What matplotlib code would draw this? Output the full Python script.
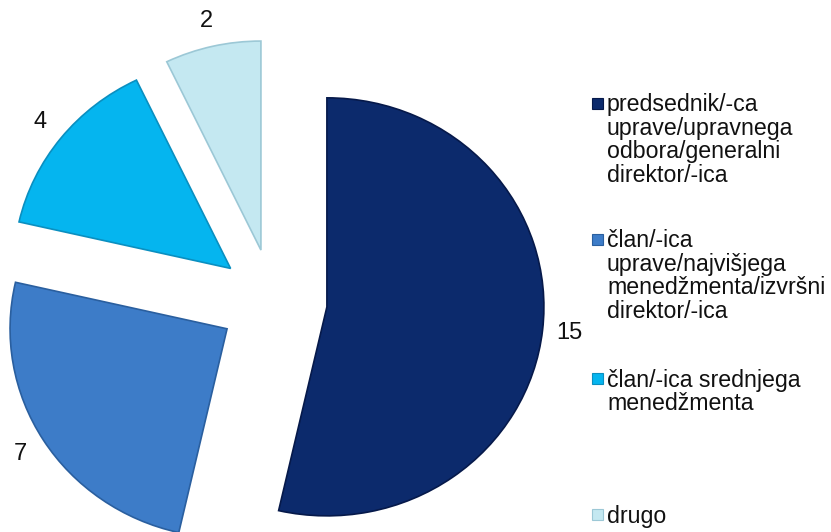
import matplotlib.pyplot as plt
from matplotlib.patches import Rectangle

# survey answers: position of the respondent in the company
labels = [
    'predsednik/-ca\nuprave/upravnega\nodbora/generalni\ndirektor/-ica',
    'član/-ica\nuprave/najvišjega\nmenedžmenta/izvršni\ndirektor/-ica',
    'član/-ica srednjega\nmenedžmenta',
    'drugo',
]
counts = [15, 7, 4, 2]
colors = ['#0c2a6c', '#3d7cc8', '#05b5ef', '#c4e8f1']
edges = ['#06194a', '#2a5f9f', '#0a8fc0', '#9cc8d6']

plt.rcParams['font.family'] = ['Liberation Sans', 'DejaVu Sans']

W, H = 831, 532
fig = plt.figure(figsize=(W / 100, H / 100), dpi=100)
ax = fig.add_axes([0, 0, 1, 1])

total = sum(counts)
wedges, texts = ax.pie(
    counts,
    startangle=90,
    counterclock=False,
    explode=[0.25] * len(counts),
    colors=colors,
    autopct=lambda p: f'{round(p * total / 100):d}',
    pctdistance=1.125,
    textprops=dict(fontsize=17, color='#111111'),
    wedgeprops=dict(linewidth=1.2),
    frame=True,
)[:2]
for w, ec in zip(wedges, edges):
    w.set_edgecolor(ec)
ax.axis('off')

# pie centre (px) and radius (px), slightly flatter vertically
cx, cy, rx, ry = 273, 301, 217, 209
ax.set_aspect('auto')
ax.set_xlim(-cx / rx, (W - cx) / rx)
ax.set_ylim(-(H - cy) / ry, cy / ry)

# legend drawn by hand so the entries keep even spacing
baselines = [112, 248, 387, 523]
line_h = 23.3
for lab, col, ec, yb in zip(labels, colors, edges, baselines):
    n = lab.count('\n')
    fig.patches.append(Rectangle((592 / W, 1 - (yb - 3) / H), 11 / W, 11 / H,
                                 transform=fig.transFigure, facecolor=col,
                                 edgecolor=ec, linewidth=0.8))
    fig.text(607 / W, 1 - (yb + n * line_h) / H, lab, fontsize=16.7,
             va='baseline', ha='left', linespacing=1.03, color='#111111')

fig.savefig('out.png', dpi=100)
